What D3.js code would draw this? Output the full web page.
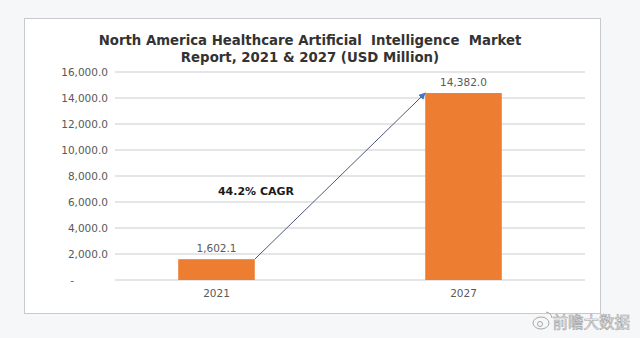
<!DOCTYPE html>
<html lang="en">
<head>
  <meta charset="UTF-8">
  <title>North America Healthcare AI Market</title>
  <script src="https://d3js.org/d3.v7.min.js"></script>
  <style>
    body { margin: 0; background: #f6f7f9; }
    svg { display: block; font-family: "DejaVu Sans", Verdana, sans-serif; }
    .tick-label { font-size: 10.5px; fill: #595959; }
    .grid line { stroke: #dcdde0; stroke-width: 1.5; }
  </style>
</head>
<body>
  <svg width="640" height="338"></svg>

  <script>
    const years = ["2021", "2027"];
    const values = [1602.1, 14382.0];
    const yTicks = [0, 2000, 4000, 6000, 8000, 10000, 12000, 14000, 16000];
    const cagrLabel = "44.2% CAGR";
    const titleLines = ["North America Healthcare Artificial  Intelligence  Market",
                        "Report, 2021 & 2027 (USD Million)"];

    const svg = d3.select("svg");

    // chart frame
    svg.append("rect")
        .attr("x", 24.5).attr("y", 18.5)
        .attr("width", 576).attr("height", 295)
        .attr("fill", "#fff")
        .attr("stroke", "#c9cacd");

    svg.selectAll(".title")
        .data(titleLines)
        .enter().append("text")
        .attr("class", "title")
        .attr("x", 310)
        .attr("y", (d, i) => 45 + i * 17)
        .attr("text-anchor", "middle")
        .attr("font-size", "13.3px")
        .attr("font-weight", "bold")
        .attr("fill", "#333")
        .style("white-space", "pre")
        .text(d => d);

    const x = d3.scaleBand()
        .domain(years)
        .range([93, 587]);

    const y = d3.scaleLinear()
        .domain([0, 16000])
        .range([280, 72]);

    const barW = x.bandwidth() * 0.31;
    const fmt = d3.format(",.1f");

    // gridlines
    svg.append("g")
        .attr("class", "grid")
        .selectAll("line")
        .data(yTicks)
        .enter().append("line")
        .attr("x1", 115).attr("x2", 585)
        .attr("y1", d => y(d)).attr("y2", d => y(d));

    // y labels
    svg.append("g")
        .selectAll("text")
        .data(yTicks)
        .enter().append("text")
        .attr("class", "tick-label")
        .attr("x", d => d === 0 ? 74 : 108)
        .attr("y", d => y(d))
        .attr("dy", "0.35em")
        .attr("text-anchor", "end")
        .text(d => d === 0 ? "-" : fmt(d));

    // bars
    svg.append("g")
        .selectAll("rect")
        .data(values)
        .enter().append("rect")
        .attr("x", (d, i) => x(years[i]) + x.bandwidth() / 2 - barW / 2)
        .attr("y", d => y(d))
        .attr("width", barW)
        .attr("height", d => y(0) - y(d))
        .attr("fill", "#ed7d31");

    // value labels
    svg.append("g")
        .selectAll("text")
        .data(values)
        .enter().append("text")
        .attr("class", "tick-label")
        .attr("x", (d, i) => x(years[i]) + x.bandwidth() / 2)
        .attr("y", d => y(d) - 7)
        .attr("text-anchor", "middle")
        .text(d => fmt(d));

    // category labels
    svg.append("g")
        .selectAll("text")
        .data(years)
        .enter().append("text")
        .attr("class", "tick-label")
        .attr("x", d => x(d) + x.bandwidth() / 2)
        .attr("y", 297)
        .attr("text-anchor", "middle")
        .text(d => d);

    // CAGR arrow from top-right of first bar to top-left of second
    svg.append("defs").append("marker")
        .attr("id", "arrow")
        .attr("viewBox", "0 0 10 10")
        .attr("refX", 9).attr("refY", 5)
        .attr("markerWidth", 7).attr("markerHeight", 7)
        .attr("orient", "auto")
        .append("path")
        .attr("d", "M0,0L10,5L0,10z")
        .attr("fill", "#4472c4");

    const x0 = x(years[0]) + x.bandwidth() / 2 + barW / 2;
    const x1 = x(years[1]) + x.bandwidth() / 2 - barW / 2;
    svg.append("line")
        .attr("x1", x0).attr("y1", y(values[0]))
        .attr("x2", x1).attr("y2", y(values[1]))
        .attr("stroke", "#4d5a75")
        .attr("stroke-width", 1)
        .attr("marker-end", "url(#arrow)");

    svg.append("text")
        .attr("x", 256)
        .attr("y", 195)
        .attr("text-anchor", "middle")
        .attr("font-size", "11px")
        .attr("font-weight", "bold")
        .attr("fill", "#1a1a1a")
        .text(cagrLabel);

    // watermark: small weibo-like logo + name
    const wm = svg.append("g").attr("fill", "none").attr("stroke", "#a8a8a8").attr("stroke-width", 1);
    wm.append("ellipse").attr("cx", 541).attr("cy", 323).attr("rx", 8).attr("ry", 6);
    wm.append("circle").attr("cx", 540).attr("cy", 324).attr("r", 2.5);
    wm.append("path").attr("d", "M546,312 a7,7 0 0 1 6,6");
    svg.append("text")
        .attr("x", 630)
        .attr("y", 328)
        .attr("text-anchor", "end")
        .attr("font-family", "Noto Sans CJK SC")
        .attr("font-size", "15.5px")
        .attr("fill", "#fff")
        .attr("stroke", "#a0a0a0")
        .attr("stroke-width", 0.6)
        .text("前瞻大数据");
  </script>
</body>
</html>
